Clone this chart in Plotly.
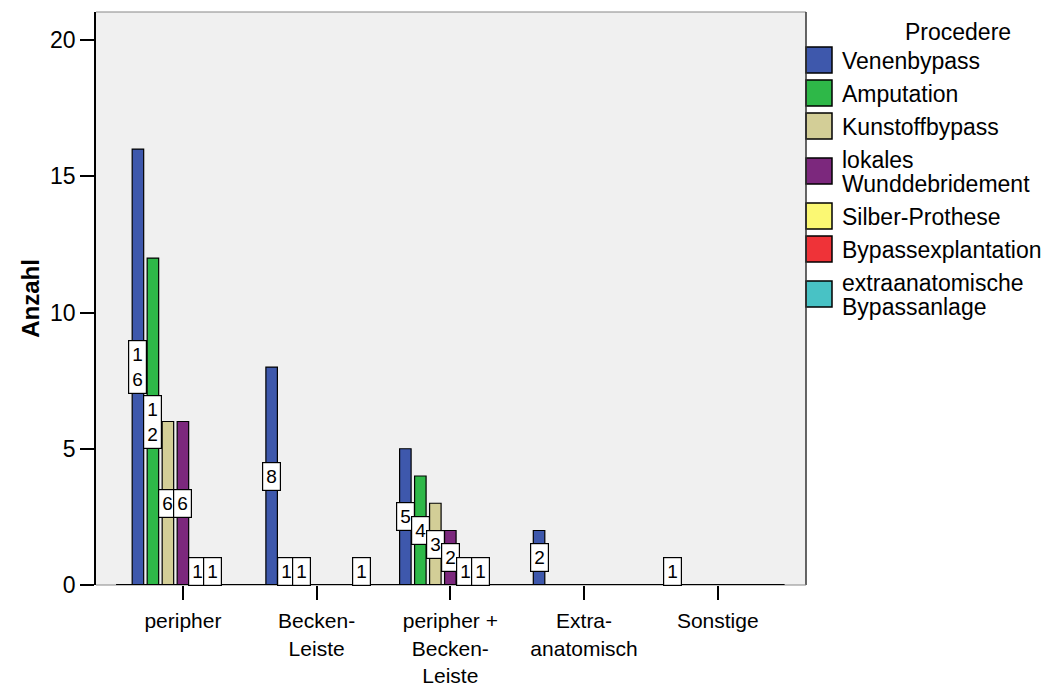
import plotly.graph_objects as go

# Operation sites (x categories) and counts per procedure
categories = ["peripher", "Becken-<br>Leiste", "peripher +<br>Becken-<br>Leiste",
              "Extra-<br>anatomisch", "Sonstige"]

venenbypass = [16, 8, 5, 2, 1]
amputation = [12, 1, 4, 0, 0]
kunstoffbypass = [6, 1, 3, 0, 0]
wunddebridement = [6, 0, 2, 0, 0]
silber_prothese = [1, 0, 1, 0, 0]
bypassexplantation = [1, 0, 1, 0, 0]
extraanatomisch = [0, 1, 0, 0, 0]

series_names = ["Venenbypass", "Amputation", "Kunstoffbypass",
                "lokales<br>Wunddebridement", "Silber-Prothese",
                "Bypassexplantation", "extraanatomische<br>Bypassanlage"]
series_values = [venenbypass, amputation, kunstoffbypass, wunddebridement,
                 silber_prothese, bypassexplantation, extraanatomisch]
colors = ["#3E58AC", "#2EB848", "#D3CE97", "#7C287D", "#FBF873", "#EF3338", "#48C2C5"]

y_ticks = [0, 5, 10, 15, 20]

FONT = "Liberation Sans, Arial, sans-serif"
BARGAP = 0.215
BARGROUPGAP = 0.233

# plot area in pixels
L, R, T, B = 96, 806, 12, 585
W, H = 1060, 686


def px_x(px):
    return (px - L) / (R - L)


def px_y(py):
    return (B - py) / (B - T)


xpos = list(range(len(categories)))
fig = go.Figure()
for name, vals, col in zip(series_names, series_values, colors):
    fig.add_trace(go.Bar(
        x=xpos, y=vals, name=name.replace("<br>", " "),
        marker=dict(color=col, line=dict(color="black", width=1.2)),
        showlegend=False,
    ))

# value labels in white boxes at the middle of each bar
n = len(series_values)
group_w = 1 - BARGAP
slot = group_w / n
annotations = []
for j, vals in enumerate(series_values):
    for i, v in enumerate(vals):
        if v <= 0:
            continue
        txt = "<br>".join(str(v)) if v >= 10 else str(v)
        annotations.append(dict(
            x=i - group_w / 2 + slot * (j + 0.5), y=v / 2, xref="x", yref="y",
            text=txt, showarrow=False, font=dict(family=FONT, size=19, color="black"),
            bgcolor="white", bordercolor="black", borderwidth=1.2, borderpad=3,
            xanchor="center", yanchor="middle",
        ))

# legend drawn beside the plot
LEG_SIZE = 23
annotations.append(dict(
    x=px_x(958), y=px_y(32), xref="paper", yref="paper", text="Procedere",
    showarrow=False, font=dict(family=FONT, size=LEG_SIZE, color="black"),
    xanchor="center", yanchor="middle",
))
shapes = []
center = None
prev_h = None
for name, col in zip(series_names, colors):
    lines = name.split("<br>")
    h = 33 + 24 * (len(lines) - 1)
    center = 60 if prev_h is None else center + (prev_h + h) / 2
    prev_h = h
    shapes.append(dict(
        type="rect", xref="paper", yref="paper",
        x0=px_x(806), x1=px_x(832), y0=px_y(center - 13), y1=px_y(center + 13),
        fillcolor=col, line=dict(color="black", width=1.5),
    ))
    for k, line in enumerate(lines):
        cy = center + (k - (len(lines) - 1) / 2) * 24
        annotations.append(dict(
            x=px_x(840), y=px_y(cy + 1), xref="paper", yref="paper", text=line,
            showarrow=False, font=dict(family=FONT, size=LEG_SIZE, color="black"),
            xanchor="left", yanchor="middle", align="left",
        ))

# frame of the plot area
shapes += [
    dict(type="line", xref="paper", yref="paper", x0=0, x1=1, y0=1, y1=1,
         line=dict(color="#888888", width=1.2)),
    dict(type="line", xref="paper", yref="paper", x0=1, x1=1, y0=0, y1=1,
         line=dict(color="#333333", width=1.5)),
    dict(type="line", xref="paper", yref="paper", x0=0, x1=1, y0=0, y1=0,
         line=dict(color="#888888", width=1.2)),
    # category baseline
    dict(type="line", xref="x", yref="y", x0=-0.5, x1=len(categories) - 0.5, y0=0, y1=0,
         line=dict(color="black", width=2)),
]

fig.update_layout(
    width=W, height=H,
    margin=dict(l=L, r=W - R, t=T, b=H - B),
    paper_bgcolor="white", plot_bgcolor="#F0F0F0",
    barmode="group", bargap=BARGAP, bargroupgap=BARGROUPGAP,
    font=dict(family=FONT, color="black"),
    annotations=annotations, shapes=shapes,
    xaxis=dict(
        tickmode="array", tickvals=xpos, ticktext=categories, automargin=False,
        range=[-0.65, 4.66], showgrid=False, zeroline=False, showline=False,
        ticks="outside", ticklen=14, tickwidth=1.5, tickcolor="black",
        tickfont=dict(family=FONT, size=21, color="black"), ticklabelstandoff=3,
    ),
    yaxis=dict(
        tickmode="array", tickvals=y_ticks, range=[0, 21.03], automargin=False,
        showgrid=False, zeroline=False, showline=True, linecolor="black", linewidth=1.5,
        ticks="outside", ticklen=14, tickwidth=1.5, tickcolor="black",
        tickfont=dict(family=FONT, size=23, color="black"),
        title=dict(text="<b>Anzahl</b>", font=dict(family=FONT, size=24, color="black"),
                   standoff=4),
    ),
)

fig.write_html("out.html")
